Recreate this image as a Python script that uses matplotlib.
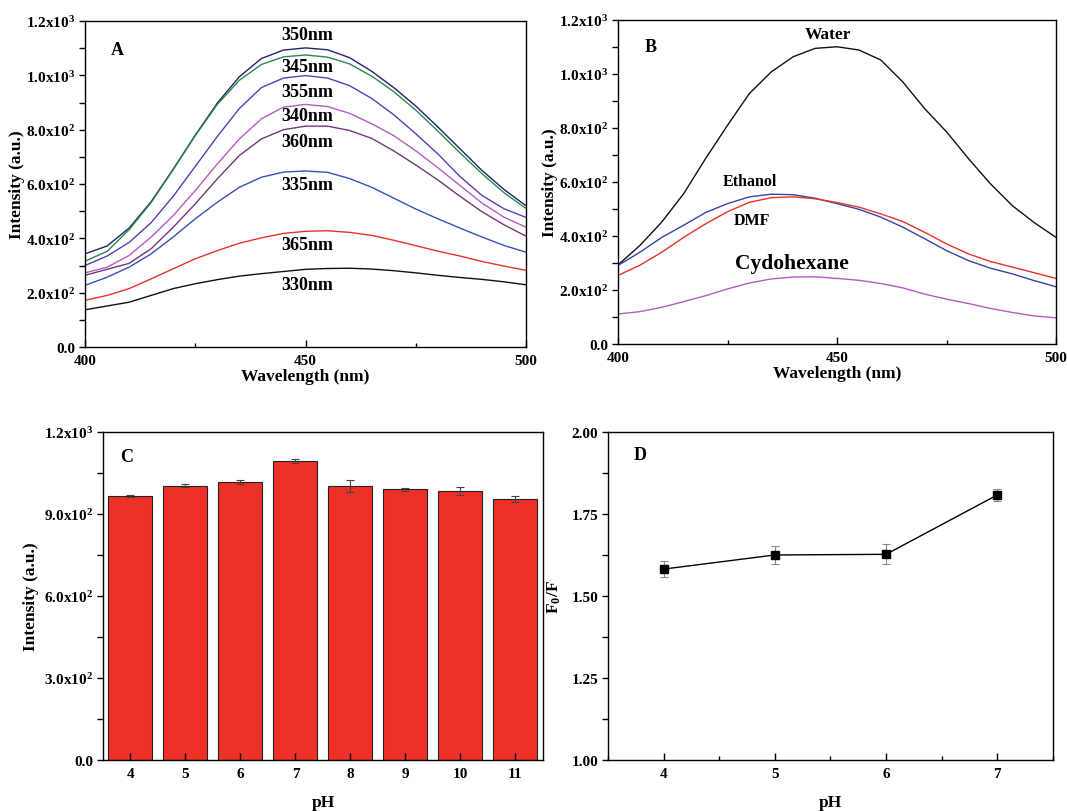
import numpy as np
import matplotlib
matplotlib.use("Agg")
import matplotlib.pyplot as plt
from matplotlib.ticker import FuncFormatter, MultipleLocator

# ---- data ----
wavelength = [400, 405, 410, 415, 420, 425, 430, 435, 440, 445, 450,
              455, 460, 465, 470, 475, 480, 485, 490, 495, 500]

# panel A: emission spectra at different excitation wavelengths
ex350 = [343, 372, 438, 535, 655, 780, 898, 995, 1062, 1093, 1101, 1094, 1065, 1015, 955, 887, 810, 730, 650, 580, 520]
ex345 = [316, 352, 432, 532, 653, 778, 893, 982, 1040, 1068, 1075, 1067, 1042, 997, 940, 872, 795, 715, 638, 568, 510]
ex355 = [300, 335, 385, 458, 555, 665, 775, 878, 955, 990, 999, 990, 962, 915, 855, 785, 711, 628, 558, 509, 477]
ex340 = [273, 294, 337, 405, 484, 576, 674, 766, 840, 883, 893, 885, 860, 822, 778, 722, 660, 595, 530, 478, 441]
ex360 = [264, 286, 308, 362, 441, 527, 619, 705, 766, 800, 813, 813, 797, 768, 722, 670, 615, 555, 498, 450, 408]
ex335 = [227, 257, 294, 343, 405, 472, 533, 588, 625, 644, 648, 643, 620, 588, 548, 508, 472, 438, 405, 374, 349]
ex365 = [172, 190, 215, 251, 288, 325, 355, 382, 402, 418, 426, 428, 422, 411, 393, 373, 353, 335, 315, 298, 282]
ex330 = [137, 151, 165, 190, 215, 233, 248, 261, 270, 278, 286, 289, 290, 287, 281, 273, 264, 256, 249, 240, 229]

# panel B: solvents
water = [293, 365, 452, 557, 687, 810, 928, 1008, 1064, 1095, 1101, 1089, 1052, 971, 872, 786, 687, 594, 513, 450, 395]
ethanol = [291, 340, 395, 440, 487, 520, 545, 555, 553, 540, 520, 499, 470, 433, 390, 346, 309, 281, 260, 235, 212]
dmf = [254, 292, 340, 395, 445, 490, 525, 542, 545, 538, 524, 507, 482, 454, 414, 371, 334, 306, 285, 264, 243]
cyclohexane = [111, 120, 136, 157, 179, 204, 226, 241, 248, 249, 243, 236, 224, 208, 185, 166, 150, 132, 117, 104, 97]

# panel C: intensity vs pH
ph_c = [4, 5, 6, 7, 8, 9, 10, 11]
intensity_c = [965, 1004, 1016, 1094, 1002, 990, 984, 956]
err_c = [3, 5, 7, 6, 21, 6, 16, 11]

# panel D: F0/F vs pH
ph_d = [4, 5, 6, 7]
ratio_d = [1.582, 1.625, 1.627, 1.808]
err_d = [0.024, 0.027, 0.030, 0.019]

plt.rcParams['font.family'] = ['Liberation Serif', 'DejaVu Serif']
plt.rcParams['font.weight'] = 'bold'
plt.rcParams['axes.labelweight'] = 'bold'
plt.rcParams['mathtext.fontset'] = 'custom'
plt.rcParams['mathtext.rm'] = 'Liberation Serif:bold'
plt.rcParams['mathtext.it'] = 'Liberation Serif:bold:italic'
plt.rcParams['mathtext.bf'] = 'Liberation Serif:bold'
plt.rcParams['axes.linewidth'] = 1.0


def sci_fmt(v, pos):
    if abs(v) < 1e-9:
        return '0.0'
    e = int(np.floor(np.log10(abs(v)) + 1e-9))
    m = v / 10 ** e
    return f'{m:.1f}x10$^{{{e}}}$'


def style_axes(ax):
    ax.tick_params(axis='x', which='major', direction='in', length=5, width=1, labelsize=11, pad=5)
    ax.tick_params(axis='x', which='minor', direction='in', length=3, width=1)
    ax.tick_params(axis='y', which='both', direction='out', length=4, width=1, labelsize=11, pad=3)
    ax.tick_params(top=False, right=False, which='both')


fig = plt.figure(figsize=(10.67, 8.12), dpi=100)
axA = fig.add_axes([0.0797, 0.5714, 0.4133, 0.4015])
axB = fig.add_axes([0.5792, 0.5751, 0.4105, 0.3990])
axC = fig.add_axes([0.0965, 0.0628, 0.4124, 0.4040])
axD = fig.add_axes([0.5698, 0.0628, 0.4170, 0.4040])

# ---- A ----
curvesA = [
    (ex350, '#22226e', '350nm', 1150),
    (ex345, '#2b8a4c', '345nm', 1033),
    (ex355, '#5a3cb8', '355nm', 942),
    (ex340, '#b45cbf', '340nm', 853),
    (ex360, '#74357f', '360nm', 755),
    (ex335, '#3552b8', '335nm', 600),
    (ex365, '#e8322a', '365nm', 376),
    (ex330, '#111111', '330nm', 229),
]
for ys, col, lab, ty in curvesA:
    axA.plot(wavelength, ys, color=col, lw=1.0)
    axA.text(450.5, ty, lab, ha='center', va='center', fontsize=13, fontweight='bold')
axA.text(407.3, 1095, 'A', ha='center', va='center', fontsize=13, fontweight='bold')
axA.set_xlim(400, 500)
axA.set_ylim(0, 1200)
axA.xaxis.set_major_locator(MultipleLocator(50))
axA.xaxis.set_minor_locator(MultipleLocator(25))
axA.yaxis.set_major_locator(MultipleLocator(200))
axA.yaxis.set_minor_locator(MultipleLocator(100))
axA.yaxis.set_major_formatter(FuncFormatter(sci_fmt))
axA.set_xlabel('Wavelength (nm)', fontsize=12.5, labelpad=1)
axA.set_ylabel('Intensity (a.u.)', fontsize=12.5, labelpad=1)
style_axes(axA)

# ---- B ----
axB.plot(wavelength, water, color='#111111', lw=1.0)
axB.plot(wavelength, ethanol, color='#3344aa', lw=1.0)
axB.plot(wavelength, dmf, color='#e8322a', lw=1.0)
axB.plot(wavelength, cyclohexane, color='#b45cbf', lw=1.0)
axB.text(448, 1150, 'Water', ha='center', va='center', fontsize=12.5, fontweight='bold')
axB.text(430, 602, 'Ethanol', ha='center', va='center', fontsize=11.5, fontweight='bold')
axB.text(430.6, 460, 'DMF', ha='center', va='center', fontsize=11.5, fontweight='bold')
axB.text(439.7, 300, 'Cydohexane', ha='center', va='center', fontsize=15.5, fontweight='bold')
axB.text(407.4, 1103, 'B', ha='center', va='center', fontsize=13, fontweight='bold')
axB.set_xlim(400, 500)
axB.set_ylim(0, 1200)
axB.xaxis.set_major_locator(MultipleLocator(50))
axB.xaxis.set_minor_locator(MultipleLocator(25))
axB.yaxis.set_major_locator(MultipleLocator(200))
axB.yaxis.set_minor_locator(MultipleLocator(100))
axB.yaxis.set_major_formatter(FuncFormatter(sci_fmt))
axB.set_xlabel('Wavelength (nm)', fontsize=12.5, labelpad=1)
axB.set_ylabel('Intensity (a.u.)', fontsize=12.5, labelpad=1)
style_axes(axB)

# ---- C ----
axC.bar(ph_c, intensity_c, width=0.8, color='#ee3128', edgecolor='#222222', linewidth=0.8,
        yerr=err_c, error_kw=dict(ecolor='#444444', elinewidth=0.8, capsize=3, capthick=0.8))
axC.text(3.93, 1110, 'C', ha='center', va='center', fontsize=13, fontweight='bold')
axC.set_xlim(3.5, 11.5)
axC.set_ylim(0, 1200)
axC.set_xticks(ph_c)
axC.yaxis.set_major_locator(MultipleLocator(300))
axC.yaxis.set_minor_locator(MultipleLocator(150))
axC.yaxis.set_major_formatter(FuncFormatter(sci_fmt))
axC.set_xlabel('pH', fontsize=12.5, labelpad=10)
axC.set_ylabel('Intensity (a.u.)', fontsize=12.5, labelpad=4)
style_axes(axC)

# ---- D ----
axD.errorbar(ph_d, ratio_d, yerr=err_d, color='black', lw=1.0, marker='s', markersize=6,
             ecolor='#888888', elinewidth=0.8, capsize=3, capthick=0.8)
axD.text(3.79, 1.93, 'D', ha='center', va='center', fontsize=13, fontweight='bold')
axD.set_xlim(3.5, 7.5)
axD.set_ylim(1.0, 2.0)
axD.set_xticks(ph_d)
axD.xaxis.set_minor_locator(MultipleLocator(0.5))
axD.yaxis.set_major_locator(MultipleLocator(0.25))
axD.yaxis.set_minor_locator(MultipleLocator(0.125))
axD.yaxis.set_major_formatter(FuncFormatter(lambda v, p: f'{v:.2f}'))
axD.set_xlabel('pH', fontsize=12.5, labelpad=10)
axD.set_ylabel('F$_0$/F', fontsize=12.5, labelpad=6)
style_axes(axD)

fig.savefig('out.png', dpi=100)
